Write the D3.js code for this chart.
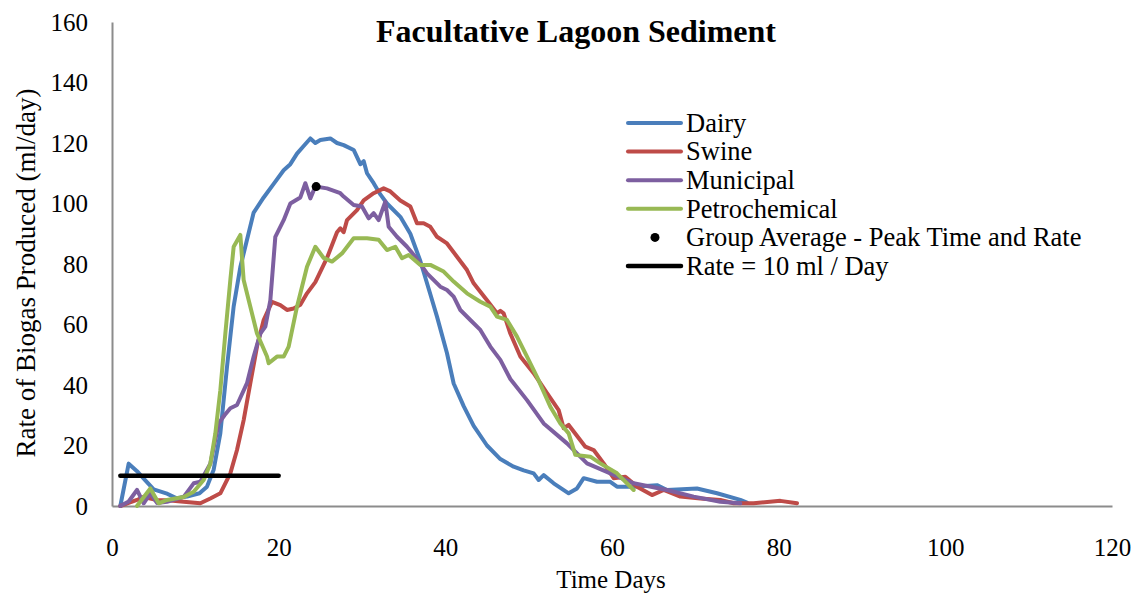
<!DOCTYPE html>
<html>
<head>
<meta charset="utf-8">
<script src="https://cdn.jsdelivr.net/npm/d3@7"></script>
<style>
  body { margin: 0; background: #fff; }
  svg text { font-family: "Liberation Serif", "Times New Roman", serif !important; fill: #000; }
</style>
</head>
<body>
<div id="chart"></div>
<script>
// values: [day, ml/day]
var dairy = [[1,0],[2,14],[3,11.5],[4,8.5],[5,5.5],[6.5,4.2],[7.7,2.6],[9,3.1],[10.5,4.2],[11.4,6.4],[12.2,12],[13,24],[13.8,46],[14.6,66],[15.4,79],[16.2,88],[17,97],[18.2,102],[19.4,106.5],[20.6,111],[21.4,113],[22.2,116.5],[23,119],[23.8,121.5],[24.4,120],[25,121],[26.2,121.5],[27,120],[27.8,119.3],[29,117.7],[29.8,113],[30.2,114],[30.6,110],[31.4,106.7],[32.2,103],[33,100],[34.6,95.6],[35.8,90],[37,81],[38.2,70],[39,62.6],[40.2,50.5],[41,40.5],[42.2,33],[43.4,26.5],[45,20],[46.6,15.5],[48.2,13],[49.4,11.8],[50.6,10.8],[51.2,8.6],[51.8,10.2],[53,7.5],[54.8,4.2],[55.8,5.8],[56.6,9.2],[58.2,8],[59.8,8],[60.6,6.4],[62.6,6.4],[65.4,6.9],[66.6,5.3],[70.2,5.8],[72.6,4.2],[75.4,2],[76.2,1.1]];

var swine = [[1,0],[2,1],[3,2],[3.8,3],[5.4,2],[7,1.8],[8.6,1.4],[10.6,0.9],[11.8,2.5],[13,4.2],[14.2,10.8],[15,18.5],[15.8,28.4],[16.6,40.6],[17.4,52.7],[18.2,61.5],[19.2,67.5],[20.2,66.4],[21,64.8],[21.8,65.3],[22.6,66.5],[23.4,70.3],[24.4,74],[25.8,82],[27,90.5],[27.4,91.8],[27.8,90.5],[28.2,94.5],[29.4,97.8],[30.2,101],[31.4,103.4],[32.6,105],[33.4,104],[34.6,101],[35.8,99],[36.6,93.5],[37.4,93.5],[38.2,92.3],[39,89],[40.2,86.8],[41.4,82.4],[42.6,78],[43.4,73.6],[45,68],[46.2,63.7],[46.6,64.5],[47,63.7],[47.8,57],[49,49.4],[50.6,43.9],[52.2,37.3],[53.6,31.7],[54.2,25.7],[54.8,26.8],[56.8,19.6],[57.8,18.5],[59,14.1],[60.2,9.2],[61.6,9.7],[63,6.4],[64.8,3.6],[66.2,5.3],[68.2,3.1],[70.6,2.5],[73,2],[74.6,0.9],[77,0.9],[80.2,1.7],[82.2,0.9]];

var municipal = [[1,0],[2,1.5],[3,5.3],[3.8,0.9],[4.6,4.2],[5.4,1],[6.6,1.4],[8.6,3],[9.8,7.5],[10.6,8],[11.8,14],[12.8,27.3],[13.5,30],[14.2,32.3],[15,33.4],[16.2,40.6],[17,49.4],[17.8,57],[18.4,59.3],[19,68],[19.6,89],[20.6,94.5],[21.4,100],[22.6,102],[23.2,106.7],[23.8,101.7],[24.4,105.6],[25.8,105],[27.4,103.4],[27.8,102.3],[29,99.5],[30,99],[30.8,95.1],[31.4,96.8],[32,94.5],[32.8,100.6],[33.2,92.3],[34.2,89],[35.4,85.7],[36.4,82.4],[37.8,76.9],[39.4,72.5],[40.2,71.4],[41,69.2],[41.8,64.8],[43,61.5],[44.2,58.2],[45.4,52.7],[46.6,48.3],[47.8,42],[49.8,35],[51.8,27.3],[54.6,20.7],[57,14.1],[59.8,10.8],[62.6,7.5],[66.6,5.3],[69.8,3.1],[73,1.4],[75.4,0.9]];

var petrochemical = [[3,0],[4.6,5.8],[5.6,0.9],[6.6,2],[8.6,3],[9.8,4.7],[11,8.6],[11.8,14],[12.4,24],[13,38.3],[13.6,57],[14.2,74.7],[14.6,85.7],[15.4,89.6],[15.8,74.7],[16.6,65.9],[17.4,57],[18.6,49.4],[18.8,47.2],[19.8,49.4],[20.6,49.4],[21.2,52.7],[22.2,65.9],[23.4,79.1],[24.4,85.7],[25.4,82],[26.4,80.8],[27.6,83.5],[29,88.5],[30.6,88.5],[32,88],[33,84.6],[34,85.7],[34.8,81.9],[35.6,83],[37,79.7],[38.2,79.7],[39.8,77.5],[41,74.2],[42.6,70.3],[44.2,67.5],[45.4,65.9],[46.2,62.6],[47.4,61.5],[48.6,56],[49.8,49.4],[51,42.7],[52.6,32.8],[53.8,27.3],[54.8,24],[55.6,16.9],[57.4,16.3],[58.6,14.1],[60.6,10.8],[62.6,5.3]];

var groupAverage = [[24.5, 105.6]];
var rateLine = [[1, 10], [20, 10]];

var xTicks = [0, 20, 40, 60, 80, 100, 120];
var yTicks = [0, 20, 40, 60, 80, 100, 120, 140, 160];

var series = [
  { name: "Dairy", data: dairy, color: "#4a7ebb" },
  { name: "Swine", data: swine, color: "#be4b48" },
  { name: "Municipal", data: municipal, color: "#7d5fa0" },
  { name: "Petrochemical", data: petrochemical, color: "#98b954" }
];

var serif = '"Liberation Serif", "Times New Roman", serif';

var svgWidth = 1135;
var svgHeight = 594;
var margin = { top: 22, right: 23, bottom: 88, left: 112 };
var width = svgWidth - margin.left - margin.right;
var height = svgHeight - margin.top - margin.bottom;

var svg = d3.select("#chart")
  .append("svg")
  .attr("width", svgWidth)
  .attr("height", svgHeight)
  .attr("font-family", serif);

var chartGroup = svg.append("g")
  .attr("transform", `translate(${margin.left}, ${margin.top})`);

var xScale = d3.scaleLinear().domain([0, 120]).range([0, width]);
var yScale = d3.scaleLinear().domain([0, 160]).range([height, 0]);

// axes, no tick marks, gray lines
var bottomAxis = d3.axisBottom(xScale).tickValues(xTicks).tickSize(0).tickPadding(32);
var leftAxis = d3.axisLeft(yScale).tickValues(yTicks).tickSize(0).tickPadding(24);

var xg = chartGroup.append("g")
  .attr("transform", `translate(0, ${height})`)
  .call(bottomAxis);
var yg = chartGroup.append("g").call(leftAxis);

[xg, yg].forEach(function(g) {
  g.attr("font-family", serif).attr("font-size", 25);
  g.select(".domain").attr("stroke", "#8c8c8c").attr("stroke-width", 2);
  g.selectAll("text")
    .attr("font-family", serif)
    .attr("fill", "#000");
});

var line = d3.line()
  .x(d => xScale(d[0]))
  .y(d => yScale(d[1]));

chartGroup.selectAll(".series")
  .data(series)
  .enter()
  .append("path")
  .attr("class", "series")
  .attr("d", d => line(d.data))
  .attr("fill", "none")
  .attr("stroke", d => d.color)
  .attr("stroke-width", 4)
  .attr("stroke-linejoin", "round")
  .attr("stroke-linecap", "round");

chartGroup.append("path")
  .attr("d", line(rateLine))
  .attr("fill", "none")
  .attr("stroke", "#000")
  .attr("stroke-width", 4.5)
  .attr("stroke-linecap", "round");

chartGroup.selectAll(".avg")
  .data(groupAverage)
  .enter()
  .append("circle")
  .attr("class", "avg")
  .attr("cx", d => xScale(d[0]))
  .attr("cy", d => yScale(d[1]))
  .attr("r", 4.5)
  .attr("fill", "#000");

// title
svg.append("text")
  .attr("x", 576)
  .attr("y", 42)
  .attr("text-anchor", "middle")
  .attr("font-size", 32)
  .attr("font-weight", "bold")
  .text("Facultative Lagoon Sediment");

// axis titles
svg.append("text")
  .attr("transform", "translate(35, 273) rotate(-90)")
  .attr("text-anchor", "middle")
  .attr("font-size", 27)
  .text("Rate of Biogas Produced (ml/day)");

svg.append("text")
  .attr("x", 611)
  .attr("y", 588)
  .attr("text-anchor", "middle")
  .attr("font-size", 25)
  .text("Time Days");

// legend
var legendItems = series.map(s => ({ name: s.name, color: s.color, type: "line" }))
  .concat([
    { name: "Group Average - Peak Time and Rate", color: "#000", type: "dot" },
    { name: "Rate = 10 ml / Day", color: "#000", type: "line" }
  ]);

var legend = svg.append("g").attr("transform", "translate(628, 123)");
var rows = legend.selectAll("g")
  .data(legendItems)
  .enter()
  .append("g")
  .attr("transform", (d, i) => `translate(0, ${i * 28.6})`);

rows.filter(d => d.type === "line").append("line")
  .attr("x1", 0).attr("x2", 53)
  .attr("y1", 0).attr("y2", 0)
  .attr("stroke", d => d.color)
  .attr("stroke-width", d => d.color === "#000" ? 4.5 : 4)
  .attr("stroke-linecap", "round");

rows.filter(d => d.type === "dot").append("circle")
  .attr("cx", 27).attr("cy", 0).attr("r", 4.5)
  .attr("fill", d => d.color);

rows.append("text")
  .attr("x", 58)
  .attr("y", 0)
  .attr("dy", "0.33em")
  .attr("font-size", 26.5)
  .text(d => d.name);
</script>
</body>
</html>
